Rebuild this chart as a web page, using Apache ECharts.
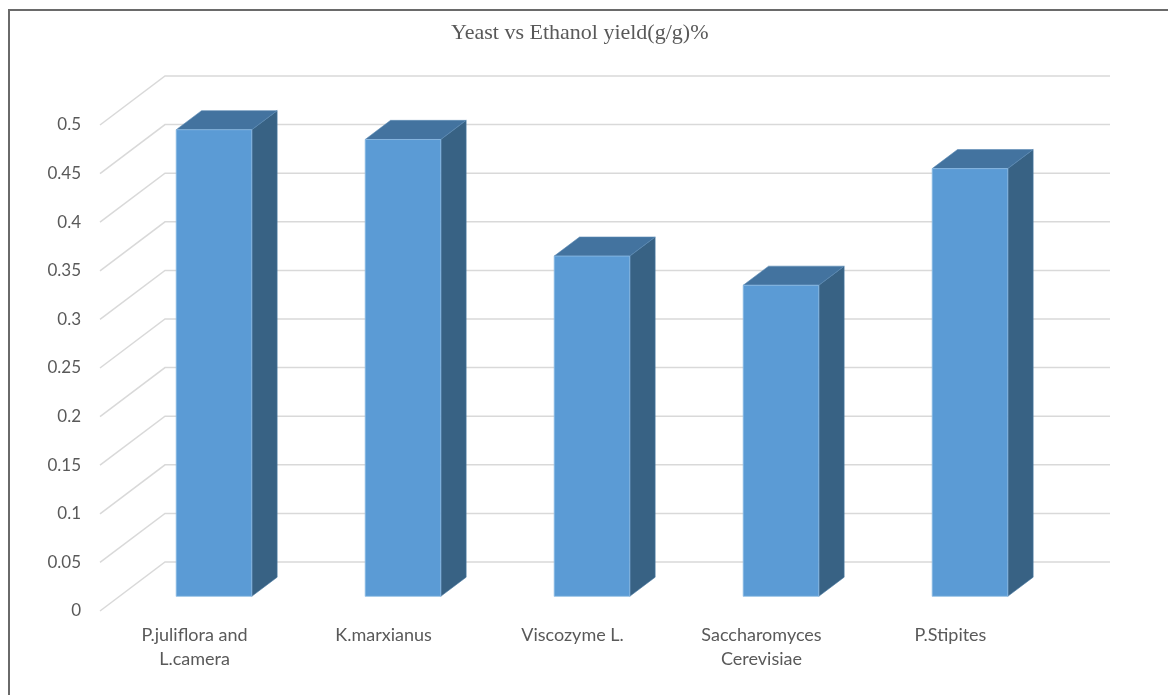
<!DOCTYPE html>
<html><head><meta charset="utf-8">
<script src="https://cdn.jsdelivr.net/npm/echarts@6/dist/echarts.min.js"></script>
<style>html,body{margin:0;padding:0;background:#fff}#c{width:1168px;height:695px}</style>
</head><body><div id="c"></div>
<script>
const chartTitle = 'Yeast vs Ethanol yield(g/g)%';
const categories = ['P.juliflora and\nL.camera', 'K.marxianus', 'Viscozyme L.', 'Saccharomyces\nCerevisiae', 'P.Stipites'];
const yieldValues = [0.48, 0.47, 0.35, 0.32, 0.44];
const yTicks = [0, 0.05, 0.1, 0.15, 0.2, 0.25, 0.3, 0.35, 0.4, 0.45, 0.5];

const DEPTH = [65, -49];       // perspective offset from front plane to back wall
const BAR_FRONT = 0.3, BAR_BACK = 0.69, BAR_W = 0.4;

function renderGrid(params, api) {
  const v = api.value(1);
  const p = api.coord([0, v]);
  const cs = params.coordSys;
  const x0 = cs.x, y = p[1];
  return {
    type: 'polyline', silent: true,
    shape: { points: [[x0, y], [x0 + DEPTH[0], y + DEPTH[1]], [x0 + cs.width + DEPTH[0], y + DEPTH[1]]] },
    style: { stroke: '#d9d9d9', lineWidth: 1.5, fill: null }
  };
}

function renderBar(params, api) {
  const i = api.value(0), v = api.value(1);
  const top = api.coord([i, v]), base = api.coord([i, 0]);
  const band = api.size([1, 0])[0];
  const w = band * BAR_W;
  const fx = top[0] - w / 2 + DEPTH[0] * BAR_FRONT;
  const fy = DEPTH[1] * BAR_FRONT;
  const bx = DEPTH[0] * (BAR_BACK - BAR_FRONT), by = DEPTH[1] * (BAR_BACK - BAR_FRONT);
  const yT = top[1] + fy, yB = base[1] + fy;
  return {
    type: 'group',
    children: [
      { type: 'polygon', shape: { points: [[fx + w, yT], [fx + w + bx, yT + by], [fx + w + bx, yB + by], [fx + w, yB]] },
        style: { fill: '#386284', stroke: '#4a7aa3', lineWidth: 0.6 } },
      { type: 'polygon', shape: { points: [[fx, yT], [fx + bx, yT + by], [fx + w + bx, yT + by], [fx + w, yT]] },
        style: { fill: '#43739F', stroke: '#5d8bb5', lineWidth: 0.6 } },
      { type: 'rect', shape: { x: fx, y: yT, width: w, height: yB - yT },
        style: { fill: '#5B9BD5', stroke: '#8dbbe3', lineWidth: 0.8 } }
    ]
  };
}

const chart = echarts.init(document.getElementById('c'), null, { renderer: 'canvas' });
chart.setOption({
  animation: false,
  backgroundColor: '#fff',
  title: {
    text: chartTitle, left: 446, top: 17,
    textStyle: { fontFamily: 'Liberation Serif', fontSize: 22, fontWeight: 'normal', color: '#595959' }
  },
  graphic: [{
    type: 'rect', silent: true, z: 100,
    shape: { x: 9, y: 10, width: 1200, height: 720 },
    style: { fill: null, stroke: '#6a6a6a', lineWidth: 2 }
  }],
  grid: { left: 100, right: 123, top: 125, bottom: 84 },
  xAxis: {
    type: 'category', data: categories,
    axisLine: { show: false }, axisTick: { show: false }, splitLine: { show: false },
    axisLabel: { interval: 0, margin: 12, fontFamily: 'Lato', fontSize: 18, lineHeight: 24, color: '#595959' }
  },
  yAxis: {
    type: 'value', min: 0, max: 0.5, interval: 0.05,
    axisLine: { show: false }, axisTick: { show: false }, splitLine: { show: false },
    axisLabel: { margin: 19, fontFamily: 'Lato', fontSize: 17, color: '#595959' }
  },
  series: [
    { type: 'custom', clip: false, z: 1, encode: { x: 0, y: 1 },
      data: yTicks.map(v => [0, v]), renderItem: renderGrid },
    { type: 'custom', clip: false, z: 2, encode: { x: 0, y: 1 },
      data: yieldValues.map((v, i) => [i, v]), renderItem: renderBar }
  ]
});
</script></body></html>
